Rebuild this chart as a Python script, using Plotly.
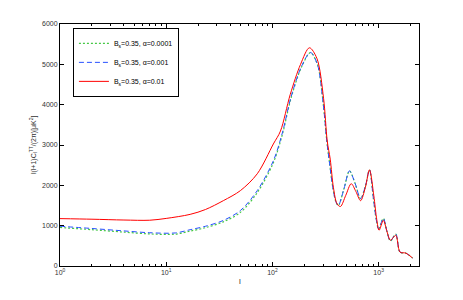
import plotly.graph_objects as go

# multipole l and l(l+1)C_l/2pi values
l_red = [1, 2, 4, 7, 10, 16.8, 23.4, 34.5, 50, 72, 102, 119, 147, 184, 223, 262, 303, 328, 350, 375, 406, 437,
         490, 552, 610, 676, 750, 820, 900, 960, 1010, 1107, 1200, 1290, 1450, 1590, 1800, 2085]
v_red = [1175, 1160, 1140, 1135, 1180, 1280, 1400, 1620, 1870, 2287, 3025, 3345, 4250, 5000, 5410, 5150, 4160, 3100,
         2650, 1950, 1540, 1475, 1750, 2040, 1850, 1620, 1950, 2385, 1750, 1150, 885, 1130, 850, 640, 760, 345, 320, 200]

l_blue = [1, 2, 4, 7, 12.2, 16.8, 23.4, 34.5, 50, 72, 102, 124, 150, 188, 228, 265, 300, 325, 345, 370, 395, 417,
          470, 532, 600, 676, 750, 820, 890, 950, 1000, 1107, 1200, 1290, 1450, 1590, 1800, 2085]
v_blue = [985, 930, 870, 825, 820, 900, 985, 1130, 1377, 1870, 2607, 3300, 4200, 4950, 5295, 5000, 4050, 3100,
          2550, 1950, 1600, 1500, 1900, 2360, 2050, 1670, 1980, 2385, 1700, 1150, 920, 1180, 850, 620, 790, 345, 320, 200]

l_green = [1, 2, 4, 7, 12.2, 16.8, 23.4, 34.5, 50, 72, 102, 124, 150, 188, 228, 265, 300, 325, 345, 370, 395, 417,
           470, 532, 600, 676, 750, 820, 890, 950, 1000, 1107, 1200, 1290, 1450, 1590, 1800, 2085]
v_green = [955, 900, 840, 795, 790, 865, 950, 1095, 1330, 1820, 2560, 3260, 4170, 4935, 5290, 5000, 4060, 3110,
           2560, 1955, 1600, 1500, 1900, 2355, 2050, 1670, 1980, 2380, 1700, 1150, 920, 1180, 850, 620, 790, 345, 320, 200]

names = ["B<sub>s</sub>=0.35, α=0.0001", "B<sub>s</sub>=0.35, α=0.001", "B<sub>s</sub>=0.35, α=0.01"]

x_major = [1, 10, 100, 1000]
x_major_text = ["10<sup>0</sup>", "10<sup>1</sup>", "10<sup>2</sup>", "10<sup>3</sup>"]
x_minor = [2, 3, 4, 5, 6, 7, 8, 9, 20, 30, 40, 50, 60, 70, 80, 90, 200, 300, 400, 500, 600, 700, 800, 900, 2000]
y_ticks = [0, 1000, 2000, 3000, 4000, 5000, 6000]

fig = go.Figure()
fig.add_trace(go.Scatter(x=l_green, y=v_green, mode="lines", name=names[0],
                         line=dict(color="rgb(70,200,70)", width=1.2, dash="2px,2px", shape="spline", smoothing=0.9)))
fig.add_trace(go.Scatter(x=l_blue, y=v_blue, mode="lines", name=names[1],
                         line=dict(color="rgb(40,80,255)", width=1, dash="5px,3px", shape="spline", smoothing=0.9)))
fig.add_trace(go.Scatter(x=l_red, y=v_red, mode="lines", name=names[2],
                         line=dict(color="rgb(255,0,0)", width=1, shape="spline", smoothing=0.9)))

font_family = "Liberation Sans, Arial"
axis_common = dict(showline=True, linecolor="black", linewidth=1, mirror="ticks", ticks="inside",
                   tickcolor="black", ticklen=4, showgrid=False, zeroline=False,
                   tickfont=dict(family=font_family, size=7, color="#333"))

fig.update_xaxes(type="log", range=[0, 3.38], tickvals=x_major, ticktext=x_major_text,
                 minor=dict(tickvals=x_minor, ticks="inside", ticklen=2, tickcolor="black"),
                 **axis_common)
fig.update_yaxes(range=[0, 6000], tickvals=y_ticks, **axis_common)

fig.add_annotation(text="l", xref="paper", yref="paper", x=0.5, y=-0.066, xanchor="center", yanchor="middle",
                   showarrow=False, font=dict(family=font_family, size=8, color="#333"))
fig.add_annotation(text="l(l+1)C<sub>l</sub><sup>TT</sup>/(2π)[μK<sup>2</sup>]",
                   xref="paper", yref="paper", x=-0.075, y=0.5, xanchor="center", yanchor="middle",
                   textangle=-90, showarrow=False, font=dict(family=font_family, size=7, color="#333"))

# page body has an 8px default margin, so the figure is sized to fit the 463x300 window
fig.update_layout(
    width=455, height=292,
    margin=dict(l=52, r=44, t=14, b=34),
    paper_bgcolor="white", plot_bgcolor="white",
    showlegend=True,
    legend=dict(x=0.036, y=0.984, xanchor="left", yanchor="top",
                bgcolor="white", bordercolor="black", borderwidth=1,
                font=dict(family=font_family, size=7, color="black"),
                tracegroupgap=0, itemwidth=30),
)

fig.write_html("out.html")
